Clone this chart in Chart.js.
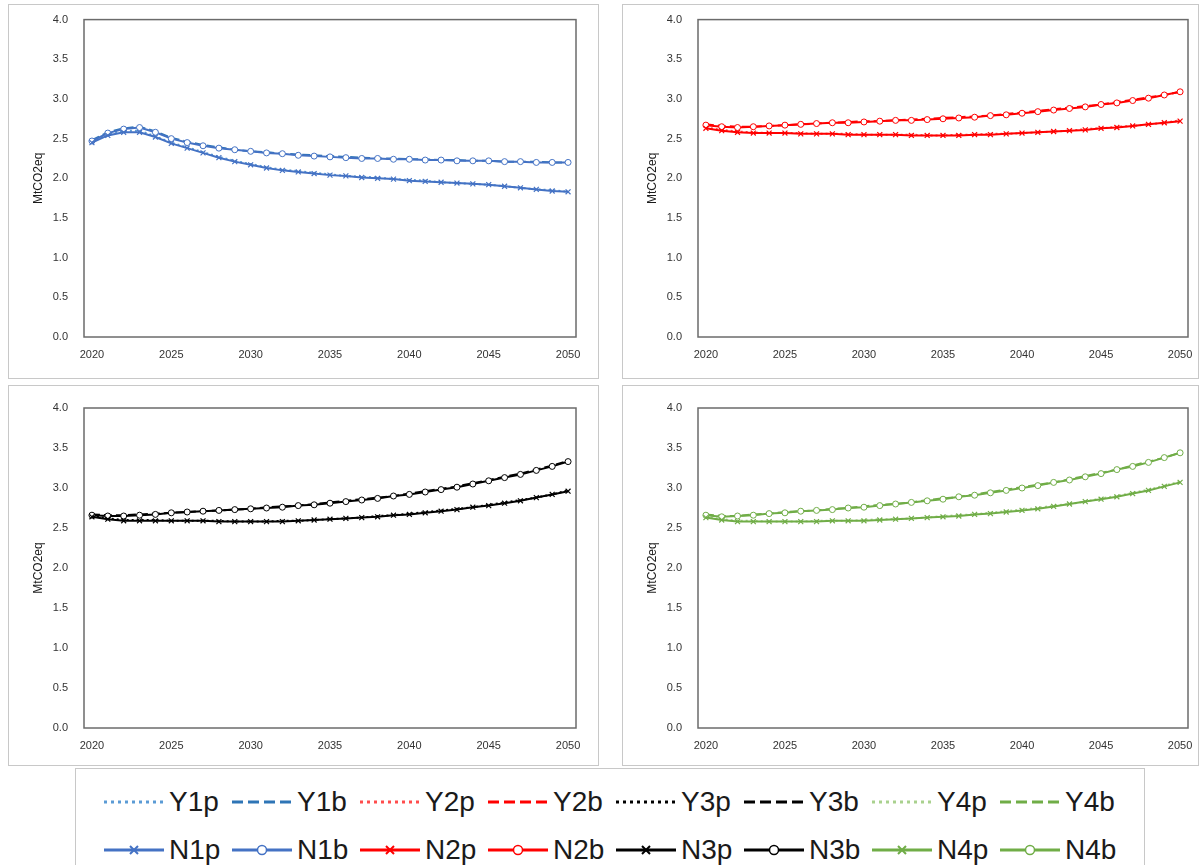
<!DOCTYPE html>
<html>
<head>
<meta charset="utf-8">
<script src="https://cdn.jsdelivr.net/npm/chart.js"></script>
<style>
  body { margin: 0; background: #fff; width: 1203px; height: 865px; position: relative; overflow: hidden; font-family: Arial, "Liberation Sans", sans-serif; }
  .panel { position: absolute; border: 1px solid #c8c8c8; box-sizing: border-box; background: #fff; }
  .panel canvas { display: block; }
  #legend { position: absolute; left: 75px; top: 768px; width: 1070px; height: 120px; border: 1px solid #c8c8c8; box-sizing: border-box; }
  .item { position: absolute; display: flex; align-items: center; height: 30px; }
  .item span { font-size: 28px; color: #1a1a1a; margin-left: 4px; line-height: 30px; }
</style>
</head>
<body>
<div class="panel" style="left:8px;top:4px;width:591px;height:375px"><canvas id="c1"></canvas></div>
<div class="panel" style="left:622px;top:4px;width:577px;height:375px"><canvas id="c2"></canvas></div>
<div class="panel" style="left:8px;top:385px;width:591px;height:381px"><canvas id="c3"></canvas></div>
<div class="panel" style="left:622px;top:385px;width:577px;height:381px"><canvas id="c4"></canvas></div>
<div id="legend"></div>
<script>
// years on the x axis
var years = [];
for (var yr = 2020; yr <= 2050; yr++) years.push(String(yr));

var yTicks = [0, 0.5, 1, 1.5, 2, 2.5, 3, 3.5, 4];

// group 1 (blue)
var n1p = [2.45,2.54,2.58,2.58,2.52,2.44,2.38,2.32,2.26,2.21,2.17,2.13,2.10,2.08,2.06,2.04,2.03,2.01,2.00,1.99,1.97,1.96,1.95,1.94,1.93,1.92,1.90,1.88,1.86,1.84,1.83];
var n1b = [2.47,2.57,2.62,2.64,2.58,2.50,2.45,2.41,2.38,2.36,2.34,2.32,2.31,2.29,2.28,2.27,2.26,2.25,2.25,2.24,2.24,2.23,2.23,2.22,2.22,2.22,2.21,2.21,2.20,2.20,2.20];
var y1p = [2.46,2.55,2.60,2.60,2.53,2.45,2.39,2.33,2.27,2.22,2.18,2.14,2.11,2.09,2.07,2.05,2.03,2.02,2.01,1.99,1.98,1.97,1.95,1.94,1.93,1.92,1.90,1.88,1.86,1.85,1.83];
var y1b = [2.48,2.58,2.63,2.65,2.59,2.51,2.46,2.42,2.39,2.36,2.34,2.33,2.31,2.30,2.29,2.28,2.27,2.26,2.25,2.25,2.24,2.24,2.23,2.23,2.22,2.22,2.21,2.21,2.21,2.20,2.20];

// group 2 (red)
var n2p = [2.63,2.60,2.58,2.57,2.57,2.57,2.56,2.56,2.56,2.55,2.55,2.55,2.55,2.54,2.54,2.54,2.54,2.55,2.55,2.56,2.57,2.58,2.59,2.60,2.61,2.63,2.64,2.66,2.68,2.70,2.72];
var n2b = [2.67,2.65,2.64,2.65,2.66,2.67,2.68,2.69,2.70,2.70,2.71,2.72,2.73,2.73,2.74,2.75,2.76,2.77,2.79,2.80,2.82,2.84,2.86,2.88,2.90,2.93,2.95,2.98,3.01,3.05,3.09];
var y2p = [2.64,2.61,2.59,2.58,2.57,2.57,2.57,2.56,2.56,2.56,2.55,2.55,2.55,2.55,2.54,2.54,2.55,2.55,2.56,2.56,2.57,2.58,2.59,2.60,2.62,2.63,2.65,2.66,2.68,2.70,2.73];
var y2b = [2.68,2.66,2.65,2.65,2.66,2.67,2.68,2.69,2.70,2.71,2.72,2.72,2.73,2.74,2.75,2.76,2.77,2.78,2.79,2.81,2.83,2.85,2.87,2.89,2.91,2.93,2.96,2.99,3.02,3.05,3.09];

// group 3 (black)
var n3p = [2.64,2.61,2.59,2.59,2.59,2.59,2.59,2.59,2.58,2.58,2.58,2.58,2.58,2.59,2.60,2.61,2.62,2.63,2.64,2.66,2.67,2.69,2.71,2.73,2.76,2.78,2.81,2.84,2.88,2.92,2.96];
var n3b = [2.66,2.65,2.65,2.66,2.67,2.69,2.70,2.71,2.72,2.73,2.74,2.75,2.76,2.78,2.79,2.81,2.83,2.85,2.87,2.90,2.92,2.95,2.98,3.01,3.05,3.09,3.13,3.17,3.22,3.27,3.33];
var y3p = [2.65,2.62,2.60,2.60,2.60,2.59,2.59,2.59,2.59,2.58,2.58,2.58,2.59,2.59,2.60,2.61,2.62,2.63,2.65,2.66,2.68,2.70,2.72,2.74,2.76,2.79,2.82,2.85,2.88,2.92,2.97];
var y3b = [2.67,2.66,2.66,2.67,2.68,2.69,2.70,2.71,2.72,2.73,2.74,2.76,2.77,2.78,2.80,2.82,2.84,2.86,2.88,2.90,2.93,2.96,2.99,3.02,3.06,3.10,3.14,3.18,3.23,3.28,3.34];

// group 4 (green)
var n4p = [2.63,2.60,2.58,2.58,2.58,2.58,2.58,2.58,2.59,2.59,2.59,2.60,2.61,2.62,2.63,2.64,2.65,2.67,2.68,2.70,2.72,2.74,2.77,2.80,2.83,2.86,2.89,2.93,2.97,3.02,3.07];
var n4b = [2.66,2.64,2.65,2.66,2.68,2.69,2.71,2.72,2.73,2.75,2.76,2.78,2.80,2.82,2.84,2.86,2.89,2.91,2.94,2.97,3.00,3.03,3.07,3.10,3.14,3.18,3.23,3.27,3.32,3.38,3.44];
var y4p = [2.64,2.61,2.59,2.59,2.58,2.58,2.58,2.59,2.59,2.59,2.60,2.61,2.61,2.62,2.63,2.65,2.66,2.67,2.69,2.71,2.73,2.75,2.78,2.80,2.83,2.87,2.90,2.94,2.98,3.03,3.08];
var y4b = [2.67,2.65,2.65,2.67,2.68,2.70,2.71,2.72,2.74,2.75,2.77,2.79,2.80,2.82,2.85,2.87,2.89,2.92,2.95,2.98,3.01,3.04,3.07,3.11,3.15,3.19,3.23,3.28,3.33,3.38,3.44];

var groups = [
  { id: 'c1', n: 1, np: n1p, nb: n1b, yp: y1p, yb: y1b, col: '#4472C4', ycol: '#2E75B6', ypcol: '#5B9BD5', pad: [14, 22, 41] },
  { id: 'c2', n: 2, np: n2p, nb: n2b, yp: y2p, yb: y2b, col: '#FF0000', ycol: '#FF0000', ypcol: '#FF4D4D', pad: [14, 10, 41] },
  { id: 'c3', n: 3, np: n3p, nb: n3b, yp: y3p, yb: y3b, col: '#000000', ycol: '#000000', ypcol: '#000000', pad: [22, 22, 37] },
  { id: 'c4', n: 4, np: n4p, nb: n4b, yp: y4p, yb: y4b, col: '#70AD47', ycol: '#70AD47', ypcol: '#A9D18E', pad: [22, 10, 37] }
];

var DOT = [2, 3], DASH = [8, 4];
var FONT = 'Arial, "Liberation Sans"';

// box around the plot area
var frame = {
  id: 'frame',
  afterDraw: function(chart) {
    var a = chart.chartArea, ctx = chart.ctx;
    ctx.save();
    ctx.strokeStyle = '#6b6b6b';
    ctx.lineWidth = 1.5;
    ctx.strokeRect(a.left, a.top, a.right - a.left, a.bottom - a.top);
    ctx.restore();
  }
};

groups.forEach(function(g) {
  var cv = document.getElementById(g.id);
  var box = cv.parentNode;
  cv.style.width = (box.clientWidth) + 'px';
  cv.style.height = (box.clientHeight) + 'px';
  new Chart(cv, {
    type: 'line',
    data: {
      labels: years,
      datasets: [
        { label: 'N' + g.n + 'p', data: g.np, borderColor: g.col, backgroundColor: g.col, borderWidth: 2,
          pointStyle: 'crossRot', pointRadius: 3.5, pointBorderWidth: 1.2 },
        { label: 'N' + g.n + 'b', data: g.nb, borderColor: g.col, backgroundColor: '#fff', borderWidth: 2,
          pointStyle: 'circle', pointRadius: 3, pointBorderWidth: 1 },
        { label: 'Y' + g.n + 'p', data: g.yp, borderColor: g.ypcol, borderWidth: 2, borderDash: DOT, pointRadius: 0 },
        { label: 'Y' + g.n + 'b', data: g.yb, borderColor: g.ycol, borderWidth: 2, borderDash: DASH, pointRadius: 0 }
      ]
    },
    options: {
      responsive: false,
      animation: false,
      layout: { padding: { top: g.pad[0], right: g.pad[1], left: 22, bottom: 0 } },
      plugins: { legend: { display: false }, tooltip: { enabled: false } },
      scales: {
        x: {
          type: 'category',
          offset: true,
          grid: { display: false },
          border: { display: false },
          ticks: {
            autoSkip: false, maxRotation: 0, color: '#333', font: { size: 11, family: FONT },
            callback: function(v) { var l = this.getLabelForValue(v); return (+l) % 5 === 0 ? l : ''; }
          },
          afterFit: function(s) { s.height = g.pad[2]; }
        },
        y: {
          min: 0, max: 4,
          grid: { display: false },
          border: { display: false },
          afterBuildTicks: function(s) { s.ticks = yTicks.map(function(v) { return { value: v }; }); },
          ticks: { color: '#333', font: { size: 11, family: FONT }, padding: 8,
            callback: function(v) { return Number(v).toFixed(1); } },
          title: { display: true, text: 'MtCO2eq', color: '#1a1a1a', font: { size: 12, family: FONT }, padding: 0 },
          afterFit: function(s) { s.width = 53; }
        }
      }
    },
    plugins: [frame]
  });
});

// legend: first row the Y series, second row the N series
var legend = document.getElementById('legend');
function sample(color, dash, marker) {
  var s = '<svg width="62" height="20" xmlns="http://www.w3.org/2000/svg">';
  s += '<line x1="1" y1="10" x2="61" y2="10" stroke="' + color + '" stroke-width="3"' +
       (dash ? ' stroke-dasharray="' + dash + '"' : '') + '/>';
  if (marker === 'x') s += '<path d="M27 6 L35 14 M35 6 L27 14" stroke="' + color + '" stroke-width="2"/>';
  if (marker === 'o') s += '<circle cx="31" cy="10" r="4.5" fill="#fff" stroke="' + color + '" stroke-width="1.5"/>';
  return s + '</svg>';
}
groups.forEach(function(g, i) {
  var entries = [
    { row: 0, col: i * 2, text: 'Y' + g.n + 'p', color: g.ypcol, dash: '3 4', marker: '' },
    { row: 0, col: i * 2 + 1, text: 'Y' + g.n + 'b', color: g.ycol, dash: '11 5', marker: '' },
    { row: 1, col: i * 2, text: 'N' + g.n + 'p', color: g.col, dash: '', marker: 'x' },
    { row: 1, col: i * 2 + 1, text: 'N' + g.n + 'b', color: g.col, dash: '', marker: 'o' }
  ];
  entries.forEach(function(e) {
    var d = document.createElement('div');
    d.className = 'item';
    d.style.left = (27 + e.col * 128) + 'px';
    d.style.top = (18 + e.row * 48) + 'px';
    d.innerHTML = sample(e.color, e.dash, e.marker) + '<span>' + e.text + '</span>';
    legend.appendChild(d);
  });
});
</script>
</body>
</html>
